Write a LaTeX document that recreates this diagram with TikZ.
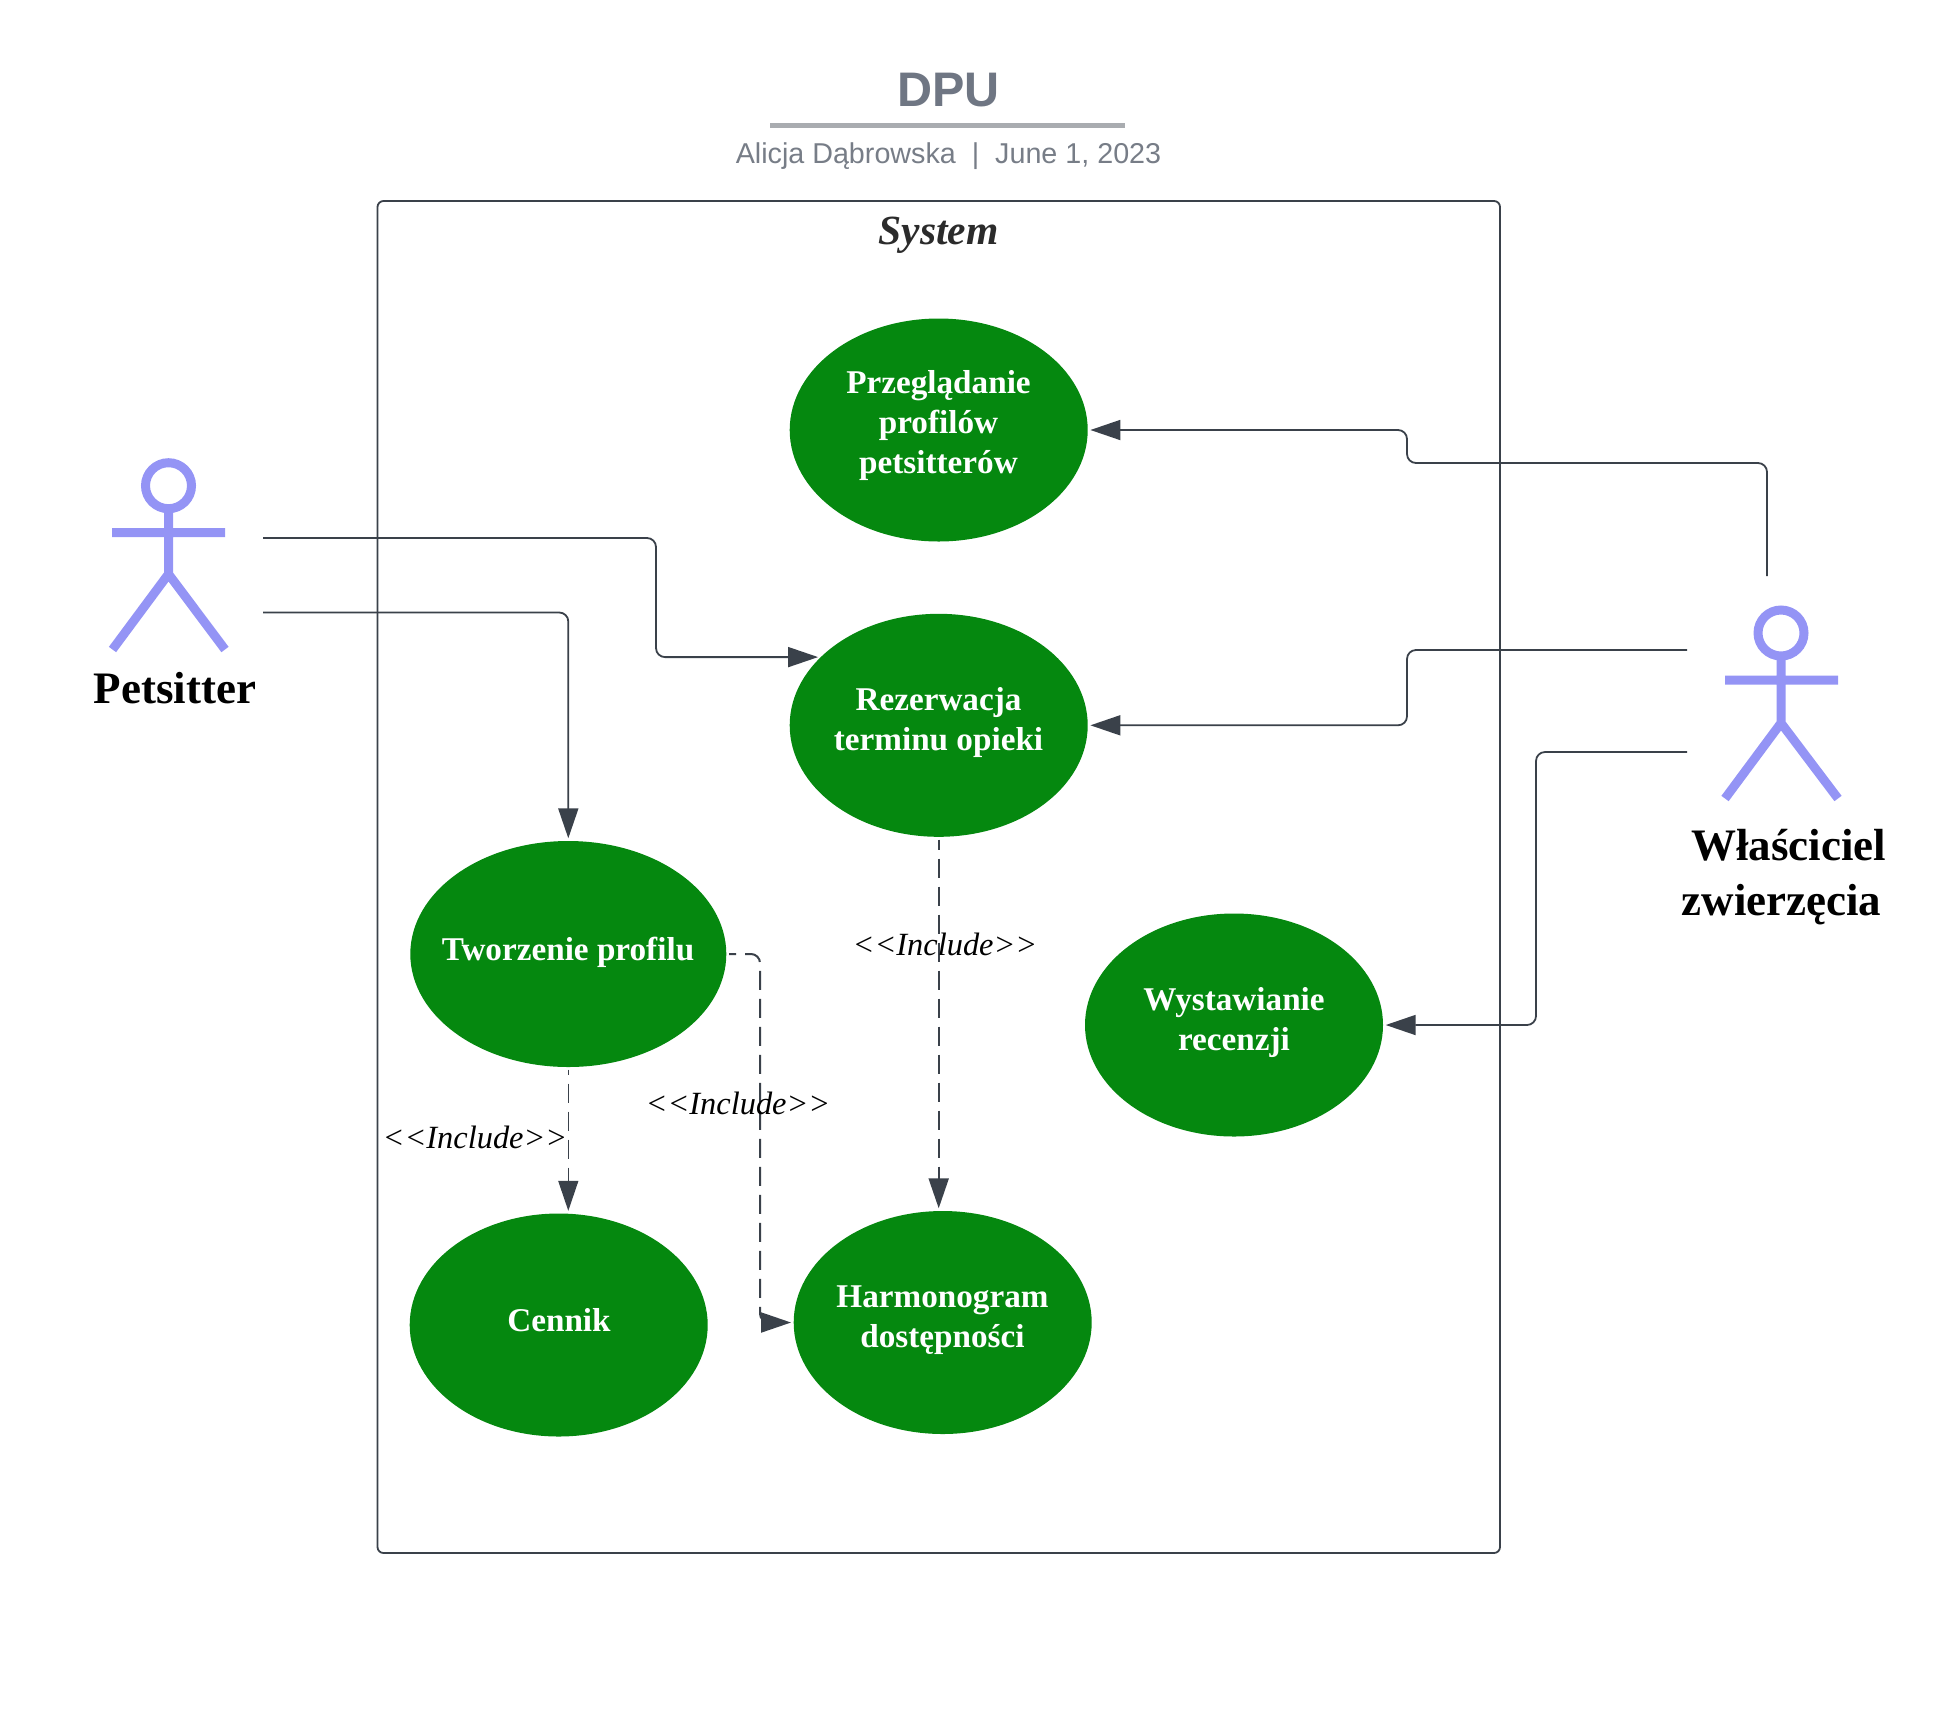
\documentclass[tikz,border=0pt]{standalone}
\usepackage{fontspec}
\usetikzlibrary{shapes.geometric,arrows.meta}
\newfontfamily\tnr{Liberation Serif}
\newfontfamily\arl{Liberation Sans}
\definecolor{ucgreen}{HTML}{05880F}
\definecolor{actorc}{HTML}{9494F5}
\definecolor{linec}{HTML}{3A414A}
\definecolor{titlec}{HTML}{6F7683}
\definecolor{rulec}{HTML}{A9ACB0}
\definecolor{subc}{HTML}{777D87}
\tikzset{
  x=1pt,y=-1pt,
  usecase/.style={ellipse,fill=ucgreen,draw=none,inner sep=0pt,minimum width=298pt,minimum height=223pt},
  uctext/.style={text=white,align=center,inner sep=0pt,font={\tnr\bfseries\fontsize{33.2}{40}\selectfont}},
  actorline/.style={draw=actorc,line width=9pt},
  actorname/.style={text=black,align=center,inner sep=0pt,font={\tnr\bfseries\fontsize{45}{55}\selectfont}},
  incl/.style={text=black,inner sep=0pt,anchor=base,font={\tnr\itshape\fontsize{32.4}{36}\selectfont}},
  flow/.style={draw=linec,line width=1.8pt,rounded corners=9pt,-{Triangle[length=30pt,width=20pt,fill=linec]},shorten >=2.5pt},
  incflow/.style={flow,line width=2pt,shorten <=2.5pt,dash pattern=on 19pt off 9pt,dash phase=9pt},
  incthin/.style={flow,line width=1.4pt,shorten <=2.5pt,dash pattern=on 19pt off 9pt,dash phase=14pt},
}
\begin{document}
\begin{tikzpicture}
\useasboundingbox (0,0) rectangle (1956,1714);
% title
\node[inner sep=0pt,anchor=base,text=titlec,font={\arl\bfseries\fontsize{48.5}{54}\selectfont}] (title) at (948.5,106.5) {DPU};
\draw[rulec,line width=5pt] (770,125) -- (1125,125);
\node[inner sep=0pt,anchor=base,text=subc,font={\arl\fontsize{28.7}{36}\selectfont}] (sub) at (948.5,163) {Alicja Dąbrowska\ \ |\ \ June 1, 2023};
% system boundary
\draw[linec,line width=1.8pt,rounded corners=6pt] (377.5,201) rectangle (1500,1553);
\node[inner sep=0pt,anchor=base,text=black!83,font={\tnr\bfseries\itshape\fontsize{41.5}{46}\selectfont}] (system) at (938.5,244) {System};
% use cases
\node[usecase] (prz) at (938.7,430) {};
\node[usecase] (rez) at (938.7,725.3) {};
\node[usecase,minimum width=316pt,minimum height=226pt] (two) at (568.3,954) {};
\node[usecase] (cen) at (558.7,1325) {};
\node[usecase] (har) at (942.7,1322.5) {};
\node[usecase] (wys) at (1234,1025) {};
\node[uctext] (przt) at (938.5,426) {Przeglądanie\\profilów\\petsitterów};
\node[uctext] (rezt) at (938.5,723) {Rezerwacja\\terminu opieki};
\node[uctext] (twot) at (568,952) {Tworzenie profilu};
\node[uctext] (cent) at (559,1320) {Cennik};
\node[uctext] (hart) at (942.5,1320) {Harmonogram\\dostępności};
\node[uctext] (wyst) at (1234,1022) {Wystawianie\\recenzji};
% actors
\draw[actorline] (168.5,485.7) circle (23pt);
\draw[actorline] (168.5,509) -- (168.5,574) (112,532.7) -- (225,532.7) (112.5,649.5) -- (168.5,574) -- (225,649.5);
\draw[actorline] (1781,633) circle (23pt);
\draw[actorline] (1781,656) -- (1781,723) (1725,680) -- (1838,680) (1725,798.5) -- (1781,723) -- (1838,798.5);
\node[actorname,anchor=base] (pet) at (175,703) {Petsitter};
\node[actorname,anchor=base] (wla) at (1781.5,915) {\hspace*{14pt}Właściciel\\zwierzęcia};
% connectors
\coordinate (p1) at (263,538);
\coordinate (p2) at (263,612.5);
\coordinate (b1) at (656,590);
\coordinate (w1) at (1767,576);
\coordinate (w2) at (1687,650);
\coordinate (w3) at (1687,752);
\coordinate (m1) at (1407,463);
\coordinate (m2) at (1407,690);
\coordinate (m3) at (1536,900);
\coordinate (d1) at (760,1100);
\draw[flow] (p1) -| (b1) |- (rez.150);
\draw[flow] (p2) -| (two.north);
\draw[flow] (w1) |- (m1) |- (prz.east);
\draw[flow] (w2) -| (m2) |- (rez.east);
\draw[flow] (w3) -| (m3) |- (wys.east);
\draw[incflow] (rez.south) -- (har.north -| rez.south);
\draw[incthin] (two.south) -- (cen.north -| two.south);
\draw[incflow,dash phase=12pt] (two.east) -| (d1) |- (har.west);
% include labels
\node[incl] (i1) at (475,1148) {<<Include>>};
\node[incl] (i2) at (738,1114) {<<Include>>};
\node[incl] (i3) at (945,955) {<<Include>>};
\end{tikzpicture}
\end{document}
